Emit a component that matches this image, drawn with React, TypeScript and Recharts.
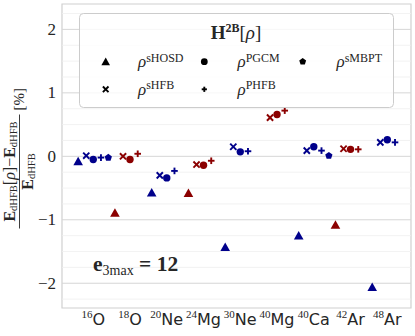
import React from 'react';
import { ScatterChart, Scatter, XAxis, YAxis, ReferenceLine, ReferenceArea } from 'recharts';

// ---- data ----
const massNumbers = ['16', '18', '20', '24', '30', '40', '40', '42', '48'];
const elements = ['O', 'O', 'Ne', 'Mg', 'Ne', 'Mg', 'Ca', 'Ar', 'Ar'];
const sHOSD: (number | null)[] = [-0.08, -0.89, -0.57, -0.58, -1.43, null, -1.25, -1.08, -2.06];
const sHFB: (number | null)[] = [0.01, 0.0, -0.3, -0.13, 0.15, 0.61, 0.09, 0.12, 0.22];
const PGCM: (number | null)[] = [-0.05, -0.05, -0.34, -0.14, 0.07, 0.66, 0.15, 0.11, 0.26];
const PHFB: (number | null)[] = [-0.02, 0.04, -0.23, -0.07, 0.08, 0.72, 0.09, 0.11, 0.22];
const sMBPT: (number | null)[] = [-0.02, null, null, null, null, null, 0.01, null, null];
const yTicks = [-2, -1, 0, 1, 2];
const yMinorTicks = [-2.25, -1.75, -1.5, -1.25, -0.75, -0.5, -0.25, 0.25, 0.5, 0.75, 1.25, 1.5, 1.75, 2.25];

// ---- layout / style ----
const X_DOMAIN: [number, number] = [-0.85, 8.645];
const Y_DOMAIN: [number, number] = [-2.39, 2.4];
const BLUE = '#00008b';
const RED = '#8b0000';
const TEXT = '#262626';
const SERIF = '"Liberation Serif", "DejaVu Serif", serif';
const SANS = '"DejaVu Sans", sans-serif';

const colorOf = (i: number) => (i % 2 === 0 ? BLUE : RED);

const build = (values: (number | null)[], offset: number) =>
  values
    .map((v, i) => (v === null ? null : { x: i + offset, y: v, i }))
    .filter((d) => d !== null) as { x: number; y: number; i: number }[];

// marker drawers
const triPath = (cx: number, cy: number, s = 1) =>
  `M${cx},${cy - 4.6 * s}L${cx + 4.8 * s},${cy + 3.9 * s}L${cx - 4.8 * s},${cy + 3.9 * s}Z`;
const pentPath = (cx: number, cy: number, r: number) => {
  const pts = [];
  for (let k = 0; k < 5; k++) {
    const a = -Math.PI / 2 + (k * 2 * Math.PI) / 5;
    pts.push(`${cx + r * Math.cos(a)},${cy + r * Math.sin(a)}`);
  }
  return 'M' + pts.join('L') + 'Z';
};

const Tri = (c: string, cx: number, cy: number, s = 1) => <path d={triPath(cx, cy, s)} fill={c} />;
const Circ = (c: string, cx: number, cy: number, r = 3.7) => <circle cx={cx} cy={cy} r={r} fill={c} />;
const XMark = (c: string, cx: number, cy: number, h = 3.1) => (
  <g stroke={c} strokeWidth={1.9}>
    <line x1={cx - h} y1={cy - h} x2={cx + h} y2={cy + h} />
    <line x1={cx - h} y1={cy + h} x2={cx + h} y2={cy - h} />
  </g>
);
const Plus = (c: string, cx: number, cy: number, h = 3.3) => (
  <g stroke={c} strokeWidth={1.9}>
    <line x1={cx - h} y1={cy} x2={cx + h} y2={cy} />
    <line x1={cx} y1={cy - h} x2={cx} y2={cy + h} />
  </g>
);
const Pent = (c: string, cx: number, cy: number, r = 3.8) => <path d={pentPath(cx, cy, r)} fill={c} />;

const shapeTri = (p: any) => Tri(colorOf(p.payload.i), p.cx, p.cy);
const shapeCirc = (p: any) => Circ(colorOf(p.payload.i), p.cx, p.cy);
const shapeX = (p: any) => XMark(colorOf(p.payload.i), p.cx, p.cy);
const shapePlus = (p: any) => Plus(colorOf(p.payload.i), p.cx, p.cy);
const shapePent = (p: any) => Pent(colorOf(p.payload.i), p.cx, p.cy);

const XTick = (props: any) => {
  const { x, y, payload } = props;
  const i = payload.value;
  return (
    <text x={x} y={y + 9} textAnchor="middle" fill={TEXT}>
      <tspan fontFamily={SERIF} fontSize={11} dy={-7}>{massNumbers[i]}</tspan>
      <tspan fontFamily={SANS} fontSize={16} dy={7}>{elements[i]}</tspan>
    </text>
  );
};

const YTick = (props: any) => {
  const { y, payload } = props;
  const v = payload.value;
  const label = v < 0 ? `\u2212${Math.abs(v)}` : `${v}`;
  return (
    <text x={56} y={y} dy="0.33em" textAnchor="end" fill={TEXT} fontFamily={SERIF} fontSize={17}>
      {label}
    </text>
  );
};

export default function App() {
  const indices = massNumbers.map((_, i) => i);
  return (
    <div style={{ position: 'absolute', left: 0, top: 0, width: 415, height: 336, background: '#fff' }}>
      <ScatterChart width={415} height={336} margin={{ top: 4, right: 4, bottom: 0, left: 0 }}>
        <XAxis
          type="number"
          dataKey="x"
          domain={X_DOMAIN}
          ticks={indices}
          tick={<XTick />}
          axisLine={false}
          tickLine={false}
          height={28}
          allowDataOverflow
          interval={0}
        />
        <YAxis
          type="number"
          dataKey="y"
          domain={Y_DOMAIN}
          ticks={yTicks}
          tick={<YTick />}
          axisLine={false}
          tickLine={false}
          width={62}
          allowDataOverflow
          interval={0}
        />
        {yMinorTicks.map((v) => (
          <ReferenceLine key={'m' + v} y={v} stroke="#efefef" strokeWidth={0.8} />
        ))}
        {yTicks.map((v) => (
          <ReferenceLine key={'M' + v} y={v} stroke="#d6d6d6" strokeWidth={1} />
        ))}
        <ReferenceArea
          x1={X_DOMAIN[0]}
          x2={X_DOMAIN[1]}
          y1={Y_DOMAIN[0]}
          y2={Y_DOMAIN[1]}
          fill="none"
          fillOpacity={0}
          stroke="#d0d0d0"
          strokeWidth={1.2}
          ifOverflow="visible"
        />
        <Scatter name="sHOSD" data={build(sHOSD, -0.41)} shape={shapeTri} isAnimationActive={false} />
        <Scatter name="sHFB" data={build(sHFB, -0.19)} shape={shapeX} isAnimationActive={false} />
        <Scatter name="PGCM" data={build(PGCM, 0)} shape={shapeCirc} isAnimationActive={false} />
        <Scatter name="PHFB" data={build(PHFB, 0.21)} shape={shapePlus} isAnimationActive={false} />
        <Scatter name="sMBPT" data={build(sMBPT, 0.41)} shape={shapePent} isAnimationActive={false} />
      </ScatterChart>
      <svg width={415} height={336} style={{ position: 'absolute', left: 0, top: 0, pointerEvents: 'none' }}>
        {/* y-axis label */}
        <g transform="translate(19.5,171.5) rotate(-90)" fill={TEXT} fontFamily={SERIF}>
          <text x={0} y={-5} textAnchor="middle" fontSize={16}>
            <tspan fontWeight="bold">E</tspan>
            <tspan fontSize={10.5} dy={2.5}>dHFB</tspan>
            <tspan dy={-2.5}>[</tspan>
            <tspan fontStyle="italic">ρ</tspan>
            <tspan>]−</tspan>
            <tspan fontWeight="bold">E</tspan>
            <tspan fontSize={10.5} dy={2.5}>dHFB</tspan>
          </text>
          <line x1={-57} y1={0} x2={57} y2={0} stroke={TEXT} strokeWidth={0.9} />
          <text x={0} y={13} textAnchor="middle" fontSize={16}>
            <tspan fontWeight="bold">E</tspan>
            <tspan fontSize={10.5} dy={2.5}>dHFB</tspan>
          </text>
          <text x={61} y={4.5} fontSize={15}>[%]</text>
        </g>
        {/* legend */}
        <rect x={79.5} y={13.5} width={314} height={94} rx={4} fill="#fff" fillOpacity={0.8} stroke="#cccccc" strokeWidth={1} />
        <text x={236} y={38.5} textAnchor="middle" fill={TEXT} fontFamily={SERIF} fontSize={19}>
          <tspan fontWeight="bold">H</tspan>
          <tspan fontWeight="bold" fontSize={12} dy={-7}>2B</tspan>
          <tspan dy={7}>[</tspan>
          <tspan fontStyle="italic">ρ</tspan>
          <tspan>]</tspan>
        </text>
        {Tri('#000', 105.7, 61.7, 0.9)}
        {Circ('#000', 204.3, 61.7, 3.4)}
        {Pent('#000', 302.7, 61.7, 3.6)}
        {XMark('#000', 105.7, 89.3, 2.8)}
        {Plus('#000', 204.3, 89.3, 2.6)}
        {[
          { x: 138, y: 67, t: 'sHOSD' },
          { x: 237.5, y: 67, t: 'PGCM' },
          { x: 336.5, y: 67, t: 'sMBPT' },
          { x: 138, y: 94.5, t: 'sHFB' },
          { x: 237.5, y: 94.5, t: 'PHFB' },
        ].map((l) => (
          <text key={l.t} x={l.x} y={l.y} fill={TEXT} fontFamily={SERIF} fontSize={17}>
            <tspan fontStyle="italic">ρ</tspan>
            <tspan fontSize={12} dy={-5.5}>{l.t}</tspan>
          </text>
        ))}
        {/* e3max annotation */}
        <text x={93} y={271} fill={TEXT} fontFamily={SERIF} fontSize={21.5}>
          <tspan fontWeight="bold">e</tspan>
          <tspan fontSize={14} dy={4}>3max</tspan>
          <tspan fontWeight="bold" dy={-4}> = 12</tspan>
        </text>
      </svg>
    </div>
  );
}
